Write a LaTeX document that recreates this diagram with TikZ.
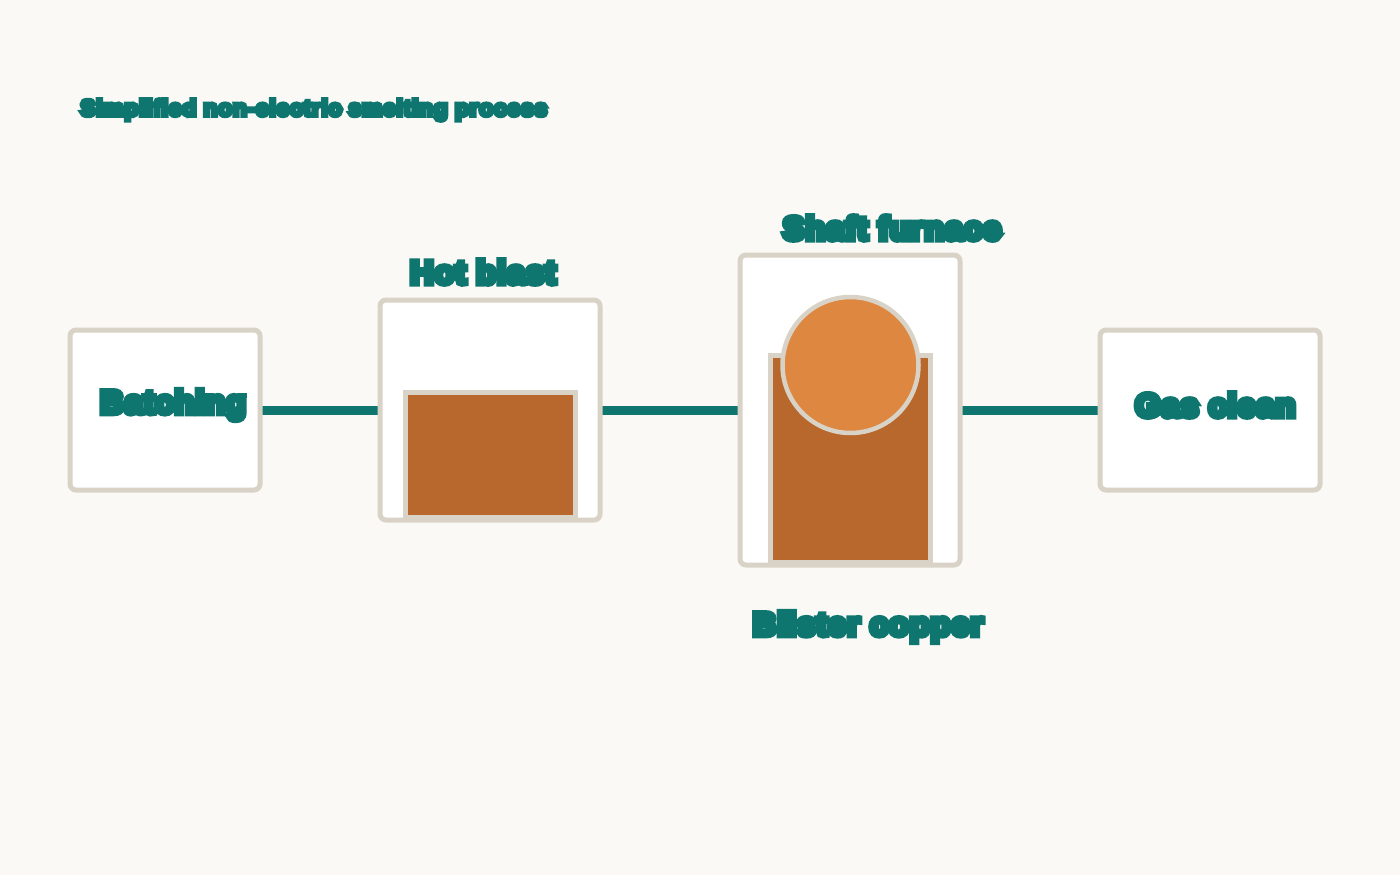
\documentclass[tikz,border=0pt]{standalone}
\usepackage{fontspec}
\usetikzlibrary{backgrounds}
\newfontfamily\blob[FakeBold=18,LetterSpace=3]{Liberation Sans Bold}
\definecolor{bg}{HTML}{FAF9F5}
\definecolor{teal}{HTML}{0E766E}
\definecolor{edge}{HTML}{D9D3C7}
\definecolor{rust}{HTML}{B8682C}
\definecolor{amber}{HTML}{DD8740}
\tikzset{
  box/.style={draw=edge,line width=5pt,fill=white,rounded corners=6pt,inner sep=0pt},
  inner/.style={draw=edge,line width=5pt,fill=rust},
  link/.style={draw=teal,line width=9pt},
  lbl/.style={text=teal,font=\blob\fontsize{32.5}{36}\selectfont,inner sep=0pt},
}
\begin{document}
\begin{tikzpicture}[x=1pt,y=-1pt]
\useasboundingbox (0,0) rectangle (1400,875);
% boxes
\node[box,minimum width=190pt,minimum height=160pt] (batch) at (165,410) {};
\node[box,minimum width=220pt,minimum height=220pt] (hot) at (490,410) {};
\node[box,minimum width=220pt,minimum height=310pt] (shaft) at (850,410) {};
\node[box,minimum width=220pt,minimum height=160pt] (gas) at (1210,410) {};
% inner pieces
\draw[inner] (405.5,392.5) rectangle (575.5,517.5);
\draw[inner] (770.5,355.5) rectangle (930.5,562.5);
\node[circle,draw=edge,line width=4.5pt,fill=amber,minimum size=136pt,inner sep=0pt] (ball) at (850.5,365) {};
% connectors (behind the boxes)
\begin{pgfonlayer}{background}
\fill[bg] (0,0) rectangle (1400,875);
\draw[link] (batch.center) -- (hot.center);
\draw[link] (hot.center) -- (shaft.center);
\draw[link] (shaft.center) -- (gas.center);
\end{pgfonlayer}
% labels
\node[lbl,anchor=west] (tb) at (100,405) {Batching};
\node[lbl,anchor=west] (tg) at (1135,405) {Gas clean};
\node[lbl] (th) at (483,272) {Hot blast};
\node[lbl] (ts) at (892,228) {Shaft furnace};
\node[lbl] (tc) at (868,627) {Blister copper};
\node[lbl,anchor=west,font=\blob\fontsize{23}{27}\selectfont] (title) at (80,110) {Simplified non-electric smelting process};
\end{tikzpicture}
\end{document}
